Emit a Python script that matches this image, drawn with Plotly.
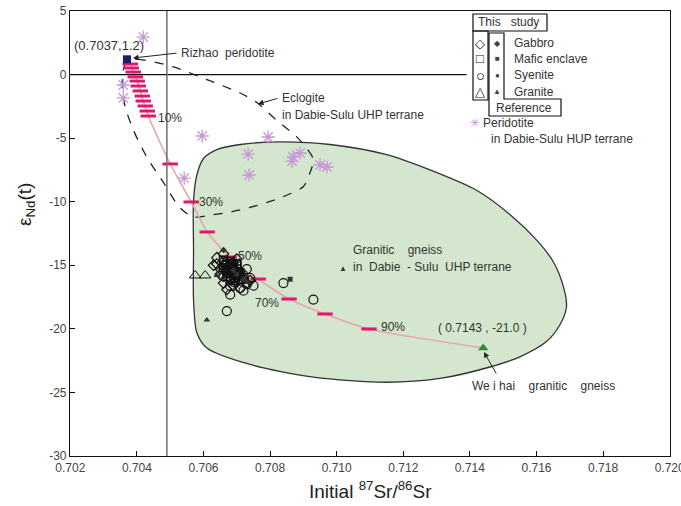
import plotly.graph_objects as go

# ---------------- data ----------------
# Granitic gneiss field (Dabie-Sulu UHP terrane)
green_x = [0.7060, 0.7058, 0.7057, 0.7057, 0.7057, 0.7058, 0.7061, 0.7074, 0.7093, 0.7115,
           0.7131, 0.7146, 0.7155, 0.7163, 0.7167, 0.7169, 0.7168, 0.7165, 0.7160, 0.7152,
           0.7142, 0.7128, 0.7115, 0.7098, 0.7083, 0.7071, 0.7064, 0.7060]
green_y = [-6.6, -7.9, -9.9, -13.8, -17.7, -20.3, -21.5, -22.8, -23.8, -24.2,
           -23.9, -23.0, -22.2, -21.0, -19.7, -18.3, -16.6, -14.7, -13.0, -11.0,
           -9.1, -7.5, -6.3, -5.5, -5.3, -5.5, -5.9, -6.6]

# Eclogite field (dashed)
ecl_x = [0.7037, 0.7040, 0.7051, 0.7061, 0.7071, 0.7076, 0.7082, 0.7088, 0.7091, 0.7093,
         0.7092, 0.7090, 0.7083, 0.7071, 0.7061, 0.7057, 0.7053, 0.7048, 0.7043, 0.7039,
         0.70365, 0.70356, 0.70359, 0.7037]
ecl_y = [1.0, 1.2, 0.6, -0.4, -1.45, -2.2, -3.6, -4.9, -5.8, -6.7,
         -7.7, -8.8, -9.7, -10.65, -11.1, -11.2, -10.5, -8.5, -6.5, -4.4,
         -2.55, -1.0, 0.35, 1.0]

# Mixing curve: Rizhao peridotite -> Weihai granitic gneiss
mix_x = [0.7037, 0.7038, 0.70389, 0.70401, 0.70410, 0.70419, 0.70434, 0.7050, 0.70563,
         0.70611, 0.70677, 0.70764, 0.70857, 0.70965, 0.71097, 0.7144]
mix_y = [1.2, 0.83, 0.2, -0.51, -1.29, -2.08, -3.26, -7.03, -10.02,
         -12.38, -14.35, -16.08, -17.65, -18.83, -20.01, -21.5]

# Mixing increments (tick marks)
tick_x = [0.70380, 0.70383, 0.70389, 0.70395, 0.70401, 0.70404, 0.70410, 0.70416, 0.70419,
          0.70425, 0.70431, 0.70434, 0.70500, 0.70563, 0.70611, 0.70677, 0.70764, 0.70857,
          0.70965, 0.71097]
tick_y = [0.83, 0.52, 0.20, -0.19, -0.51, -0.90, -1.29, -1.69, -2.08,
          -2.47, -2.87, -3.26, -7.03, -10.02, -12.38, -14.35, -16.08, -17.65,
          -18.83, -20.01]
pct_labels = ["10%", "30%", "50%", "70%", "90%"]

# Peridotite in Dabie-Sulu terrane
per_x = [0.70419, 0.70359, 0.70359, 0.70596, 0.70794, 0.70734, 0.70737, 0.70542,
         0.70869, 0.70890, 0.70866, 0.70950, 0.70971]
per_y = [2.95, -0.82, -1.84, -4.83, -4.91, -6.25, -7.90, -8.14,
         -6.48, -6.17, -6.80, -7.11, -7.27]

# This study
gab_x = [0.7064, 0.7063, 0.7065, 0.7066, 0.7064, 0.7072, 0.7073, 0.7071, 0.7069, 0.7065,
         0.7074, 0.7067, 0.7070, 0.7066, 0.7068, 0.7069]
gab_y = [-14.4, -15.0, -15.7, -16.4, -14.9, -16.0, -16.4, -16.8, -16.6, -15.3,
         -16.2, -16.9, -14.5, -14.1, -15.2, -15.7]
maf_x = [0.7066, 0.7067, 0.7068, 0.7069, 0.7070, 0.7067, 0.7068, 0.7069, 0.7070, 0.7066,
         0.7068, 0.7071, 0.7067, 0.7069, 0.7070, 0.7068, 0.70665, 0.70675, 0.70685,
         0.70695, 0.70675, 0.70685, 0.70705, 0.70695]
maf_y = [-14.6, -14.9, -14.7, -15.0, -15.3, -15.4, -15.6, -15.5, -15.8, -15.2,
         -16.1, -15.6, -15.9, -16.2, -14.9, -15.1, -15.0, -15.2, -15.35, -15.7,
         -15.6, -14.85, -15.55, -16.0]
sye_x = [0.7070, 0.7072, 0.7073, 0.7074, 0.7071, 0.7069, 0.7075, 0.7072, 0.7068, 0.7070,
         0.7073, 0.7068, 0.7067, 0.7084, 0.7093, 0.7066, 0.7071, 0.7072, 0.7070, 0.7071]
sye_y = [-15.5, -15.8, -16.5, -16.0, -16.8, -16.3, -16.6, -17.0, -16.6, -14.9,
         -15.3, -17.3, -18.6, -16.4, -17.7, -15.9, -16.2, -16.1, -15.9, -15.6]
gra_x = [0.70575, 0.70605]
gra_y = [-15.8, -15.8]

# Reference data
rgab_x = [0.7066, 0.7069, 0.7072]
rgab_y = [-13.8, -15.4, -16.1]
rmaf_x = [0.7086]
rmaf_y = [-16.1]
rsye_x = [0.7070, 0.7073]
rsye_y = [-15.7, -16.3]
rgra_x = [0.7064, 0.7061]
rgra_y = [-15.8, -19.3]

# End members
rizhao = (0.7037, 1.2)
weihai = (0.7144, -21.5)

x_ticks = [0.702, 0.704, 0.706, 0.708, 0.710, 0.712, 0.714, 0.716, 0.718, 0.720]
y_ticks = [5, 0, -5, -10, -15, -20, -25, -30]

# ---------------- figure ----------------
L, R, T, B = 70, 11, 11, 50
W, H = 681, 506
PW, PH = W - L - R, H - T - B


def px(x):
    return (x - L) / PW


def py(y):
    return (H - B - y) / PH


FONT = "Liberation Sans, Arial, sans-serif"
TXT = "#333333"
BLK = "#111111"

fig = go.Figure()

fig.add_trace(go.Scatter(x=green_x, y=green_y, mode="lines", fill="toself",
                         fillcolor="rgb(212,231,206)",
                         line=dict(color="#333333", width=1.3, shape="spline", smoothing=0.8),
                         hoverinfo="skip"))
fig.add_trace(go.Scatter(x=ecl_x, y=ecl_y, mode="lines",
                         line=dict(color="#222222", width=1.3, dash="dash", shape="spline",
                                   smoothing=0.8),
                         hoverinfo="skip"))
fig.add_trace(go.Scatter(x=mix_x, y=mix_y, mode="lines",
                         line=dict(color="#e2a9aa", width=1.6, shape="spline", smoothing=0.6)))
fig.add_trace(go.Scatter(x=tick_x, y=tick_y, mode="markers",
                         marker=dict(symbol="line-ew", size=11, color="#e0196e",
                                     line=dict(color="#e0196e", width=3))))

fig.add_trace(go.Scatter(x=sye_x, y=sye_y, mode="markers",
                         marker=dict(symbol="circle-open", size=9, color=BLK,
                                     line=dict(color=BLK, width=1.2))))
fig.add_trace(go.Scatter(x=gab_x, y=gab_y, mode="markers",
                         marker=dict(symbol="diamond-open", size=8, color=BLK,
                                     line=dict(color=BLK, width=1.2))))
fig.add_trace(go.Scatter(x=maf_x, y=maf_y, mode="markers",
                         marker=dict(symbol="square-open", size=8, color=BLK,
                                     line=dict(color=BLK, width=1.5))))
fig.add_trace(go.Scatter(x=gra_x, y=gra_y, mode="markers",
                         marker=dict(symbol="triangle-up-open", size=10, color=BLK,
                                     line=dict(color=BLK, width=1))))

small = dict(size=5, color="#333333")
fig.add_trace(go.Scatter(x=rgab_x, y=rgab_y, mode="markers",
                         marker=dict(symbol="diamond", **small)))
fig.add_trace(go.Scatter(x=rmaf_x, y=rmaf_y, mode="markers",
                         marker=dict(symbol="square", **small)))
fig.add_trace(go.Scatter(x=rsye_x, y=rsye_y, mode="markers",
                         marker=dict(symbol="circle", **small)))
fig.add_trace(go.Scatter(x=rgra_x, y=rgra_y, mode="markers",
                         marker=dict(symbol="triangle-up", size=6, color="#333333")))

fig.add_trace(go.Scatter(x=per_x, y=per_y, mode="markers",
                         marker=dict(symbol="asterisk-open", size=11, color="#c797d6",
                                     line=dict(color="#c797d6", width=1.3))))

fig.add_trace(go.Scatter(x=[rizhao[0]], y=[rizhao[1]], mode="markers",
                         marker=dict(symbol="square", size=8, color="#1c1c6b")))
fig.add_trace(go.Scatter(x=[weihai[0]], y=[weihai[1]], mode="markers",
                         marker=dict(symbol="triangle-up", size=9, color="#2e8b3e")))

# reference lines
fig.add_shape(type="line", x0=0.702, x1=0.7139, y0=0, y1=0, xref="x", yref="y",
              line=dict(color=BLK, width=1.2))
fig.add_shape(type="line", x0=0.7049, x1=0.7049, y0=-30, y1=5, xref="x", yref="y",
              line=dict(color="#6e6e6e", width=1.5))


# legend boxes
def rect(x0, y0, x1, y1):
    fig.add_shape(type="rect", xref="paper", yref="paper",
                  x0=px(x0), x1=px(x1), y0=py(y1), y1=py(y0),
                  line=dict(color=BLK, width=1.2))


rect(473, 14, 547, 31)
rect(473, 31, 488, 100)
pts = [(489, 33), (504, 33), (504, 99), (561, 99), (561, 116), (489, 116)]
path = "M " + " L ".join(f"{px(a):.5f},{py(b):.5f}" for a, b in pts) + " Z"
fig.add_shape(type="path", xref="paper", yref="paper", path=path,
              line=dict(color=BLK, width=1.2))


def ann(text, x, y, size=12, color=TXT, anchor="left", **kw):
    fig.add_annotation(text=text, x=px(x), y=py(y), xref="paper", yref="paper",
                       showarrow=False, xanchor=anchor, yanchor="middle",
                       font=dict(family=FONT, size=size, color=color), **kw)


def arrow(hx, hy, tx, ty):
    fig.add_annotation(text="", x=px(hx), y=py(hy), xref="paper", yref="paper",
                       showarrow=True, ax=tx - hx, ay=ty - hy, arrowhead=2,
                       arrowsize=1.1, arrowwidth=1, arrowcolor="#222222")


# legend texts
ann("This   study", 476, 22, size=12)
for sym, yy, sz in zip(["◇", "□", "○", "△"], [43, 59, 75, 92], [13, 13, 15, 13]):
    ann(sym, 480, yy, size=sz, color=BLK, anchor="center")
for sym, yy in zip(["◆", "■", "●", "▲"], [43, 59, 75, 92]):
    ann(sym, 497, yy, size=8, color="#444444", anchor="center")
for name, yy in zip(["Gabbro", "Mafic enclave", "Syenite", "Granite"], [43, 59, 75, 92]):
    ann(name, 512, yy, size=12)
ann("Reference", 494, 108, size=12)
ann("✳", 475, 123, size=12, color="#c797d6", anchor="center")
ann("Peridotite", 481, 123, size=12)
ann("in Dabie-Sulu HUP terrane", 489, 139, size=12)

# plot annotations
ann("(0.7037,1.2)", 72, 46, size=13)
arrow(133, 58, 178, 53)
ann("Rizhao  peridotite", 179, 53, size=12)
arrow(258, 104, 279, 98)
ann("Eclogite", 280, 98, size=12)
ann("in Dabie-Sulu UHP terrane", 280, 115, size=12)
for t, (xx, yy) in zip(pct_labels, [(156, 118), (197, 202), (236, 256), (253, 303), (379, 327)]):
    ann(t, xx, yy, size=12)
ann("Granitic    gneiss", 351, 250, size=12)
ann("▲", 343, 268, size=8, color="#333333", anchor="center")
ann("in  Dabie  - Sulu  UHP terrane", 351, 267, size=12)
ann("( 0.7143 , -21.0 )", 436, 328, size=12)
arrow(484, 352, 497, 375)
ann("We i hai    granitic    gneiss", 470, 386, size=12)

# axis titles
ann("Initial <sup>87</sup>Sr/<sup>86</sup>Sr", 370, 490, size=19, color="#222222",
    anchor="center")
ann("ε<sub>Nd</sub>(t)", 26, 205, size=19, color="#222222", anchor="center",
    textangle=-90)

axis_common = dict(showline=True, linecolor=BLK, linewidth=1.2, mirror=True,
                   ticks="inside", ticklen=5, tickcolor=BLK, showgrid=False,
                   zeroline=False, automargin=False,
                   tickfont=dict(family=FONT, size=12, color="#444444"))
fig.update_layout(
    width=W, height=H, margin=dict(l=L, r=R, t=T, b=B, autoexpand=False),
    paper_bgcolor="white", plot_bgcolor="white", showlegend=False,
    xaxis=dict(range=[0.70199, 0.72001], tickvals=x_ticks, ticklabeloverflow="allow",
               ticktext=[f"{v:.3f}" for v in x_ticks], **axis_common),
    yaxis=dict(range=[-30, 5], tickvals=y_ticks,
               ticktext=[str(v) for v in y_ticks], **axis_common),
)

fig.write_html("out.html")
